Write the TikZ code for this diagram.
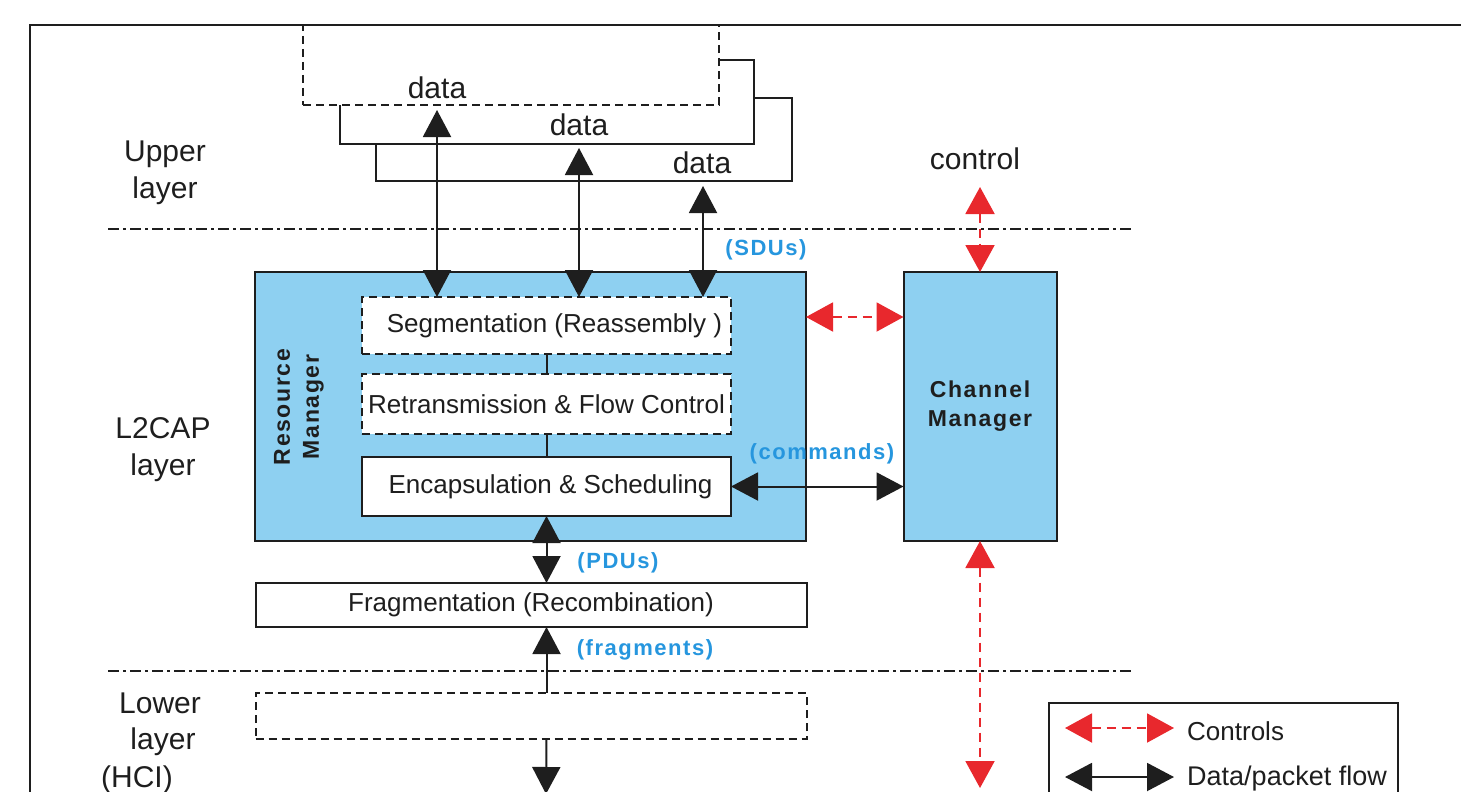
\documentclass[tikz,border=0pt]{standalone}
\usepackage{fontspec}
\setmainfont{Liberation Sans}
\newfontfamily\lblfont[LetterSpace=7]{Liberation Sans}
\usetikzlibrary{arrows.meta}
\definecolor{rmblue}{RGB}{142,208,241}
\definecolor{ctrlred}{RGB}{232,40,45}
\definecolor{lblblue}{RGB}{38,150,222}
\definecolor{ink}{RGB}{30,30,30}
\newcommand{\setfsz}[2]{\fontsize{#1}{#2}\selectfont}
\tikzset{
  box/.style={draw=ink, line width=2pt, inner sep=0pt, outer sep=0pt, anchor=center},
  dashbox/.style={box, dash pattern=on 8pt off 5pt},
  dataflow/.style={draw=ink, line width=2pt, arrows={Triangle[length=27pt,width=28pt]-Triangle[length=27pt,width=28pt]}},
  dataup/.style={draw=ink, line width=2pt, arrows={Triangle[length=27pt,width=28pt]-}},
  datadown/.style={draw=ink, line width=2pt, arrows={-Triangle[length=27pt,width=28pt]}},
  ctrl/.style={draw=ctrlred, line width=2pt, dash pattern=on 9pt off 6pt, arrows={Triangle[length=27pt,width=29pt]-Triangle[length=27pt,width=29pt]}},
  layerdiv/.style={draw=ink, line width=1.8pt, dash pattern=on 11pt off 4pt on 3pt off 4pt},
  boxtext/.style={font=\setfsz{26}{30}, text=ink},
  layertext/.style={font=\setfsz{30}{37}, text=ink, align=center},
  bluelbl/.style={font=\lblfont\bfseries\setfsz{22}{26}, text=lblblue, inner sep=0pt},
  mgrtext/.style={font=\lblfont\bfseries\setfsz{23}{29}, text=ink, align=center}
}
\begin{document}
\begin{tikzpicture}[x=1pt,y=-1pt]
\useasboundingbox (0,0) rectangle (1461,792);
\clip (0,0) rectangle (1461,792);

% layer dividers
\draw[layerdiv] (108,229) -- (1132,229);
\draw[layerdiv] (108,671) -- (1132,671);

% upper layer data boxes (back to front)
\node[box, fill=white, minimum width=416pt, minimum height=83pt] (b3) at (584,139.5) {};
\node[box, fill=white, minimum width=414pt, minimum height=84pt] (b2) at (547,102) {};
\node[dashbox, fill=white, minimum width=416pt, minimum height=80pt] (b1) at (511,65) {};
\node[font=\setfsz{30}{36}, text=ink, inner sep=0pt] (d1) at (437,88) {data};
\node[font=\setfsz{30}{36}, text=ink, inner sep=0pt] (d2) at (579,125) {data};
\node[font=\setfsz{30}{36}, text=ink, inner sep=0pt] (d3) at (702,163) {data};

% outer frame
\draw[draw=ink, line width=2pt] (30,25) rectangle (1490,830);

% layer labels
\node[layertext] (ul) at (165,173) {Upper\\layer};
\node[layertext] (l2) at (163,450) {L2CAP\\layer};
\node[layertext] (lo1) at (160,703) {Lower};
\node[layertext] (lo2) at (163,742) {layer};
\node[layertext] (lo3) at (137,780) {(HCI)};
\node[layertext] (ctl) at (975,159) {control};

% L2CAP blocks
\node[box, fill=rmblue, minimum width=551pt, minimum height=269pt] (rm) at (530.5,406.5) {};
\node[box, fill=rmblue, minimum width=153pt, minimum height=269pt, mgrtext] (cm) at (980,406.5) {Channel\\Manager};
\node[mgrtext, rotate=90] (rmt) at (299,407) {Resource\\Manager};
\node[dashbox, fill=white, minimum width=369pt, minimum height=57pt, boxtext] (seg) at (546.5,325.5) {\hspace*{16pt}Segmentation (Reassembly )};
\node[dashbox, fill=white, minimum width=369pt, minimum height=60pt, boxtext] (ret) at (546.5,404) {Retransmission \& Flow Control};
\node[box, fill=white, minimum width=369pt, minimum height=59pt, boxtext] (enc) at (546.5,486.5) {\hspace*{8pt}Encapsulation \& Scheduling};
\node[box, fill=white, minimum width=551pt, minimum height=44pt, boxtext] (frag) at (531,605) {Fragmentation (Recombination)};
\node[dashbox, minimum width=551pt, minimum height=46pt] (low) at (531,716) {};

% column coordinates
\coordinate (x1) at (437,0);
\coordinate (x2) at (579,0);
\coordinate (x3) at (703,0);
\coordinate (yr) at (0,317);
\coordinate (ctop) at (980,187);
\coordinate (cbot) at (980,788);
\coordinate (lbot) at (546,794);

% SDU arrows
\draw[dataflow, shorten <=5pt] (b1.south -| x1) -- (seg.north -| x1);
\draw[dataflow, shorten <=4pt] (b2.south -| x2) -- (seg.north -| x2);
\draw[dataflow, shorten <=5pt] (b3.south -| x3) -- (seg.north -| x3);

% internal links
\draw[draw=ink, line width=2pt] (seg.south) -- (ret.north);
\draw[draw=ink, line width=2pt] (ret.south) -- (enc.north);
\draw[dataflow] (enc.south) -- (frag.north -| enc.south);
\draw[dataup] (frag.south -| enc.south) -- (low.north -| enc.south);
\draw[datadown] (low.south -| enc.south) -- (lbot);
\draw[dataflow] (enc.east) -- (cm.west |- enc.east);

% control arrows
\draw[ctrl] (ctop) -- (cm.north);
\draw[ctrl] (cm.south) -- (cbot);
\draw[ctrl] (rm.east |- yr) -- (cm.west |- yr);

% blue labels
\node[bluelbl] (sdu) at (766,250) {(SDUs)};
\node[bluelbl] (cmd) at (822,454) {(commands)};
\node[bluelbl] (pdu) at (618,563) {(PDUs)};
\node[bluelbl] (frg) at (645,650) {(fragments)};

% legend
\node[box, anchor=north west, minimum width=349pt, minimum height=130pt] (leg) at (1049,703) {};
\coordinate (lga) at (1065,728);
\coordinate (lgb) at (1174,728);
\coordinate (lgc) at (1065,777);
\coordinate (lgd) at (1174,777);
\draw[ctrl] (lga) -- (lgb);
\draw[dataflow] (lgc) -- (lgd);
\node[boxtext, anchor=west, inner sep=0pt] (lt1) at (1187,731) {Controls};
\node[boxtext, anchor=west, inner sep=0pt, font=\setfsz{27}{30}] (lt2) at (1187,779) {Data/packet flow};
\end{tikzpicture}
\end{document}
